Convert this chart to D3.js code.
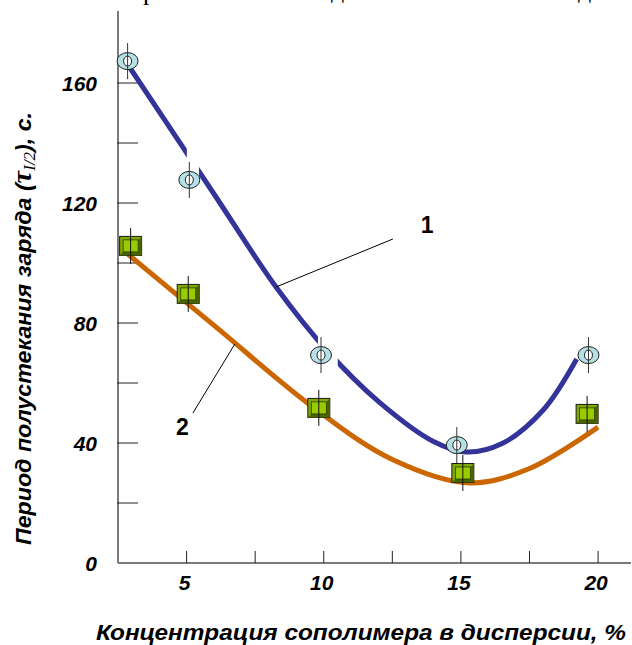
<!DOCTYPE html>
<html>
<head>
<meta charset="utf-8">
<script src="https://cdn.jsdelivr.net/npm/d3@7"></script>
<style>
  body { margin: 0; background: #fff; }
  svg { display: block; font-family: "Liberation Sans", Arial, sans-serif; }
</style>
</head>
<body>
<svg id="chart" width="632" height="645"></svg>
<script>
// data
var xTicks = [5, 10, 15, 20];
var yTicks = [0, 40, 80, 120, 160];

// curve 1 (circles)
var pts1X = [2.85, 5.1, 9.9, 14.85, 19.65];
var pts1Y = [167.3, 127.7, 69.3, 39.3, 69.3];
// curve 2 (squares)
var pts2X = [2.96, 5.06, 9.82, 15.07, 19.6];
var pts2Y = [105.7, 89.7, 51.7, 30, 49.7];
var errBar = 6;

// fitted lines
var fit1X = [2.94, 6, 8.26, 10.1, 12, 14, 15.2, 16.5, 18, 19.22];
var fit1Y = [165, 123, 92, 71, 53.8, 40.5, 37, 39.8, 51, 68];
var fit1Gaps = [[5.01, 5.45], [9.79, 10.51]];
var fit2X = [2.76, 6, 9.6, 12.5, 15.3, 17.5, 20];
var fit2Y = [103.7, 79.2, 52, 34.5, 26.7, 31.5, 45.3];

var svg = d3.select("#chart");

var x = d3.scaleLinear().domain([2.5, 21.2]).range([118, 631]);
var y = d3.scaleLinear().domain([0, 184]).range([563, 11]);

// bits of the caption line above, cut off by the crop
var caption = svg.append("g").style("font-family", "'Liberation Serif', 'Times New Roman', serif")
  .style("font-size", "26px");
caption.append("text").attr("x", 143).attr("y", 0).text("р");
caption.append("text").attr("x", 331).attr("y", -2).text("д");
caption.append("text").attr("x", 578).attr("y", -2).text("д");

// axes
svg.append("line").attr("x1", x(2.5)).attr("x2", x(2.5)).attr("y1", y(184)).attr("y2", y(0))
  .attr("stroke", "#7a7a7a").attr("stroke-width", 2);
svg.append("line").attr("x1", x(2.5)).attr("x2", x(21.2)).attr("y1", y(0)).attr("y2", y(0))
  .attr("stroke", "#7a7a7a").attr("stroke-width", 2);

d3.range(20, 161, 20).forEach(function(v) {
  svg.append("line").attr("x1", x(2.5) - 1).attr("x2", x(2.5) + 20)
    .attr("y1", y(v)).attr("y2", y(v)).attr("stroke", "#222").attr("stroke-width", 1);
});
d3.range(5, 20.1, 2.5).forEach(function(v) {
  svg.append("line").attr("x1", x(v)).attr("x2", x(v))
    .attr("y1", y(0)).attr("y2", y(0) - 12).attr("stroke", "#222").attr("stroke-width", 1);
});

svg.selectAll(".ylab").data(yTicks).enter().append("text")
  .attr("x", 97).attr("y", function(d) { return y(d) + 7.5; })
  .attr("text-anchor", "end")
  .style("font-size", "21px").style("font-weight", "bold").style("font-style", "italic")
  .text(function(d) { return d; });

svg.selectAll(".xlab").data(xTicks).enter().append("text")
  .attr("x", function(d) { return x(d) - 2; }).attr("y", 590)
  .attr("text-anchor", "middle")
  .style("font-size", "21px").style("font-weight", "bold").style("font-style", "italic")
  .text(function(d) { return d; });

// axis titles
svg.append("text").attr("x", 96).attr("y", 640)
  .attr("textLength", 530).attr("lengthAdjust", "spacingAndGlyphs")
  .style("font-size", "22px").style("font-weight", "bold").style("font-style", "italic")
  .text("Концентрация сополимера в дисперсии, %");

var yt = svg.append("text").attr("transform", "translate(31,545) rotate(-90)")
  .attr("textLength", 433).attr("lengthAdjust", "spacingAndGlyphs")
  .style("font-size", "22px").style("font-weight", "bold").style("font-style", "italic");
yt.append("tspan").text("Период полустекания заряда (");
yt.append("tspan").style("font-family", "'Liberation Serif', serif").style("font-size", "27px").text("τ");
yt.append("tspan").attr("dy", 4).style("font-family", "'Liberation Serif', serif")
  .style("font-size", "16px").style("font-weight", "normal").text("I/2");
yt.append("tspan").attr("dy", -4).text("), с.");

// curves
var line = d3.line().curve(d3.curveCatmullRom.alpha(0.5))
  .x(function(d) { return x(d[0]); }).y(function(d) { return y(d[1]); });

var mask = svg.append("defs").append("mask").attr("id", "gaps");
mask.append("rect").attr("x", 0).attr("y", 0).attr("width", 632).attr("height", 645).attr("fill", "#fff");
fit1Gaps.forEach(function(g) {
  mask.append("rect").attr("x", x(g[0])).attr("width", x(g[1]) - x(g[0]))
    .attr("y", 0).attr("height", 645).attr("fill", "#000");
});

svg.append("path").datum(d3.zip(fit2X, fit2Y)).attr("d", line)
  .attr("fill", "none").attr("stroke", "#cc6600").attr("stroke-width", 5);
svg.append("path").datum(d3.zip(fit1X, fit1Y)).attr("d", line)
  .attr("mask", "url(#gaps)")
  .attr("fill", "none").attr("stroke", "#333399").attr("stroke-width", 5);

// leader lines and curve numbers
svg.append("line").attr("x1", x(8.26)).attr("y1", y(92)).attr("x2", x(12.52)).attr("y2", y(108))
  .attr("stroke", "#000").attr("stroke-width", 1);
svg.append("line").attr("x1", x(6.76)).attr("y1", y(73)).attr("x2", x(5.23)).attr("y2", y(50))
  .attr("stroke", "#000").attr("stroke-width", 1);
svg.append("text").attr("x", x(13.77)).attr("y", y(110)).attr("text-anchor", "middle")
  .style("font-size", "23px").style("font-weight", "bold").text("1");
svg.append("text").attr("x", x(4.85)).attr("y", y(42.7)).attr("text-anchor", "middle")
  .style("font-size", "23px").style("font-weight", "bold").text("2");

// squares
var sq = svg.selectAll(".sq").data(d3.zip(pts2X, pts2Y)).enter().append("g")
  .attr("transform", function(d) { return "translate(" + x(d[0]) + "," + y(d[1]) + ")"; });
sq.append("rect").attr("x", -11).attr("y", -9.5).attr("width", 22).attr("height", 19)
  .attr("fill", "#7fa800").attr("stroke", "#1a1a1a").attr("stroke-width", 1);
sq.append("path").attr("d", "M11,-9.5 L11,9.5 L-11,9.5 L-7.5,6 L7.5,6 L7.5,-6 Z")
  .attr("fill", "#4a6400");
sq.append("rect").attr("x", -7.5).attr("y", -6).attr("width", 15).attr("height", 12)
  .attr("fill", "#99cc00").attr("stroke", "#2c3c00").attr("stroke-width", 0.8);
sq.append("line").attr("x1", 0).attr("x2", 0).attr("y1", y(0) - y(errBar)).attr("y2", y(errBar) - y(0))
  .attr("stroke", "#111").attr("stroke-width", 1);

// circles
var ci = svg.selectAll(".ci").data(d3.zip(pts1X, pts1Y)).enter().append("g")
  .attr("transform", function(d) { return "translate(" + x(d[0]) + "," + y(d[1]) + ")"; });
ci.append("ellipse").attr("rx", 10.5).attr("ry", 8.5)
  .attr("fill", "#b4e0e6").attr("stroke", "#222").attr("stroke-width", 1);
ci.append("ellipse").attr("rx", 4).attr("ry", 5)
  .attr("fill", "#fff").attr("stroke", "#222").attr("stroke-width", 1);
ci.append("line").attr("x1", 0).attr("x2", 0).attr("y1", y(0) - y(errBar)).attr("y2", y(errBar) - y(0))
  .attr("stroke", "#333").attr("stroke-width", 1);
</script>
</body>
</html>
